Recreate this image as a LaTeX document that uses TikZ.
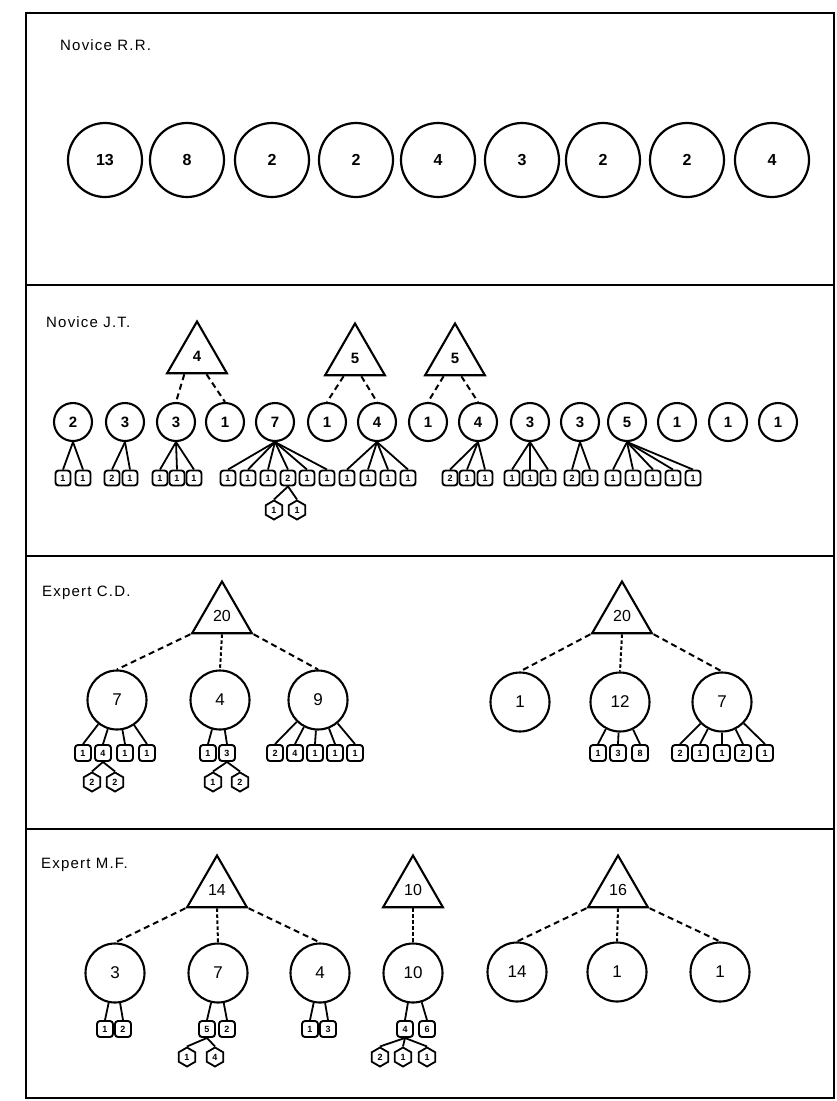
\documentclass[tikz,border=0pt]{standalone}
\usepackage{fontspec}
\setmainfont{Liberation Sans}
\newfontfamily\lblfont[LetterSpace=8]{Liberation Sans}
\usetikzlibrary{shapes.geometric,calc}
\newcommand\kidsS[3]{\foreach \x/\v [count=\k] in {#3} {\node[sqa] (#1-\k) at (\x,#2) {\v}; \draw[tie] (#1.south) -- (#1-\k.north);}}
\newcommand\kidsB[3]{\foreach \x/\v [count=\k] in {#3} {\node[sqb] (#1-\k) at (\x,#2) {\v}; \draw[tie] (#1) -- (#1-\k.north);}}
\newcommand\kidsH[3]{\foreach \x/\v [count=\k] in {#3} {\node[hx] (#1-h\k) at (\x,#2) {\v}; \draw[tie] (#1.south) -- (#1-h\k.north);}}
\begin{document}
\begin{tikzpicture}[x=1pt,y=-1pt,
  frame/.style={line width=2.2pt},
  lbl/.style={anchor=west,font=\lblfont\fontsize{15}{18}\selectfont,inner sep=0pt},
  big/.style={circle,draw,line width=2.2pt,minimum size=74pt,inner sep=0pt,font=\bfseries\fontsize{16}{18}\selectfont},
  mid/.style={circle,draw,line width=2.1pt,minimum size=38pt,inner sep=0pt,font=\bfseries\fontsize{15}{17}\selectfont},
  lrg/.style={circle,draw,line width=2.1pt,minimum size=59pt,inner sep=0pt,font=\fontsize{17}{19}\selectfont},
  tri/.style={regular polygon,regular polygon sides=3,draw,line width=2.1pt,minimum size=69pt,inner sep=0pt,font=\fontsize{16}{18}\selectfont},
  trib/.style={tri,font=\bfseries\fontsize{15}{17}\selectfont},
  sqa/.style={rectangle,rounded corners=3pt,draw,line width=1.9pt,minimum size=15pt,inner sep=0pt,font=\bfseries\fontsize{9}{10}\selectfont},
  sqb/.style={sqa,minimum size=16pt},
  hx/.style={regular polygon,regular polygon sides=6,regular polygon rotate=30,draw,line width=1.8pt,minimum size=19pt,inner sep=0pt,font=\bfseries\fontsize{9}{10}\selectfont},
  tie/.style={line width=1.8pt},
  dsh/.style={line width=2pt,dash pattern=on 6pt off 4pt},
  dtt/.style={line width=2pt,dash pattern=on 3.5pt off 2.5pt}
]
\useasboundingbox (0,0) rectangle (837,1101);
% frame
\coordinate (f1) at (26,13); \coordinate (f2) at (834,1098);
\draw[frame] (f1) rectangle (f2);
\coordinate (s1a) at (26,285); \coordinate (s1b) at (834,285);
\coordinate (s2a) at (26,556); \coordinate (s2b) at (834,556);
\coordinate (s3a) at (26,829); \coordinate (s3b) at (834,829);
\draw[frame] (s1a) -- (s1b); \draw[frame] (s2a) -- (s2b); \draw[frame] (s3a) -- (s3b);

% ---------- Panel 1
\node[lbl] (l1) at (60,45) {Novice R.R.};
\foreach \x/\v [count=\i] in {105/13,187/8,272/2,356/2,438/4,522/3,603/2,687/2,772/4}
  \node[big] (r\i) at (\x,160) {\v};

% ---------- Panel 2
\node[lbl] (l2) at (46,322) {Novice J.T.};
\node[trib] (ta) at (197,356) {4};
\node[trib] (tb) at (355,358) {5};
\node[trib] (tc) at (455,358) {5};
\foreach \x/\v [count=\i] in {73/2,125/3,176/3,225/1,275/7,327/1,377/4,428/1,478/4,530/3,580/3,627/5,677/1,728/1,778/1}
  \node[mid] (j\i) at (\x,422) {\v};
\draw[dsh] ($(ta.corner 2)!0.3!(ta.corner 3)$) -- (j3.north);
\draw[dsh] ($(ta.corner 2)!0.65!(ta.corner 3)$) -- (j4.north);
\draw[dsh] ($(tb.corner 2)!0.32!(tb.corner 3)$) -- (j6.north);
\draw[dsh] ($(tb.corner 2)!0.6!(tb.corner 3)$) -- (j7.north);
\draw[dsh] ($(tc.corner 2)!0.32!(tc.corner 3)$) -- (j8.north);
\draw[dsh] ($(tc.corner 2)!0.6!(tc.corner 3)$) -- (j9.north);
\kidsS{j1}{478}{63/1,83/1}
\kidsS{j2}{478}{112/2,130/1}
\kidsS{j3}{478}{160/1,177/1,194/1}
\kidsS{j5}{478}{228/1,248/1,268/1,288/2,307/1,327/1}
\kidsH{j5-4}{510}{274/1,297/1}
\kidsS{j7}{478}{347/1,368/1,388/1,408/1}
\kidsS{j9}{478}{450/2,467/1,485/1}
\kidsS{j10}{478}{512/1,530/1,548/1}
\kidsS{j11}{478}{572/2,590/1}
\kidsS{j12}{478}{613/1,633/1,653/1,673/1,693/1}

% ---------- Panel 3
\node[lbl] (l3) at (42,593) {Expert C.D.};
\node[tri] (tx) at (222,616) {20};
\node[lrg] (x1) at (117,700) {7};
\node[lrg] (x2) at (220,700) {4};
\node[lrg] (x3) at (318,700) {9};
\draw[dsh] (tx.corner 2) -- (x1.north);
\draw[dtt] (tx.side 2) -- (x2.north);
\draw[dsh] (tx.corner 3) -- (x3.north);
\kidsB{x1}{753}{83/1,103/4,125/1,147/1}
\kidsH{x1-2}{782}{92/2,115/2}
\kidsB{x2}{753}{208/1,227/3}
\kidsH{x2-2}{782}{213/1,240/2}
\kidsB{x3}{753}{275/2,295/4,315/1,335/1,355/1}
\node[tri] (ty) at (622,616) {20};
\node[lrg] (y1) at (520,702) {1};
\node[lrg] (y2) at (620,702) {12};
\node[lrg] (y3) at (722,702) {7};
\draw[dsh] (ty.corner 2) -- (y1.north);
\draw[dtt] (ty.side 2) -- (y2.north);
\draw[dsh] (ty.corner 3) -- (y3.north);
\kidsB{y2}{753}{598/1,618/3,640/8}
\kidsB{y3}{753}{680/2,700/1,722/1,743/2,765/1}

% ---------- Panel 4
\node[lbl] (l4) at (41,865) {Expert M.F.};
\node[tri] (tm) at (217,890) {14};
\node[lrg] (m1) at (115,973) {3};
\node[lrg] (m2) at (218,973) {7};
\node[lrg] (m3) at (320,973) {4};
\draw[dsh] (tm.corner 2) -- (m1.north);
\draw[dtt] (tm.side 2) -- (m2.north);
\draw[dsh] (tm.corner 3) -- (m3.north);
\kidsB{m1}{1029}{105/1,123/2}
\kidsB{m2}{1029}{207/5,227/2}
\kidsH{m2-1}{1057}{187/1,215/4}
\kidsB{m3}{1029}{310/1,328/3}
\node[tri] (tn) at (413,890) {10};
\node[lrg] (m4) at (413,973) {10};
\draw[dtt] (tn.side 2) -- (m4.north);
\kidsB{m4}{1029}{405/4,427/6}
\kidsH{m4-1}{1057}{380/2,403/1,427/1}
\node[tri] (to) at (618,890) {16};
\node[lrg] (n1) at (517,972) {14};
\node[lrg] (n2) at (617,972) {1};
\node[lrg] (n3) at (720,972) {1};
\draw[dsh] (to.corner 2) -- (n1.north);
\draw[dtt] (to.side 2) -- (n2.north);
\draw[dsh] (to.corner 3) -- (n3.north);
\end{tikzpicture}
\end{document}
